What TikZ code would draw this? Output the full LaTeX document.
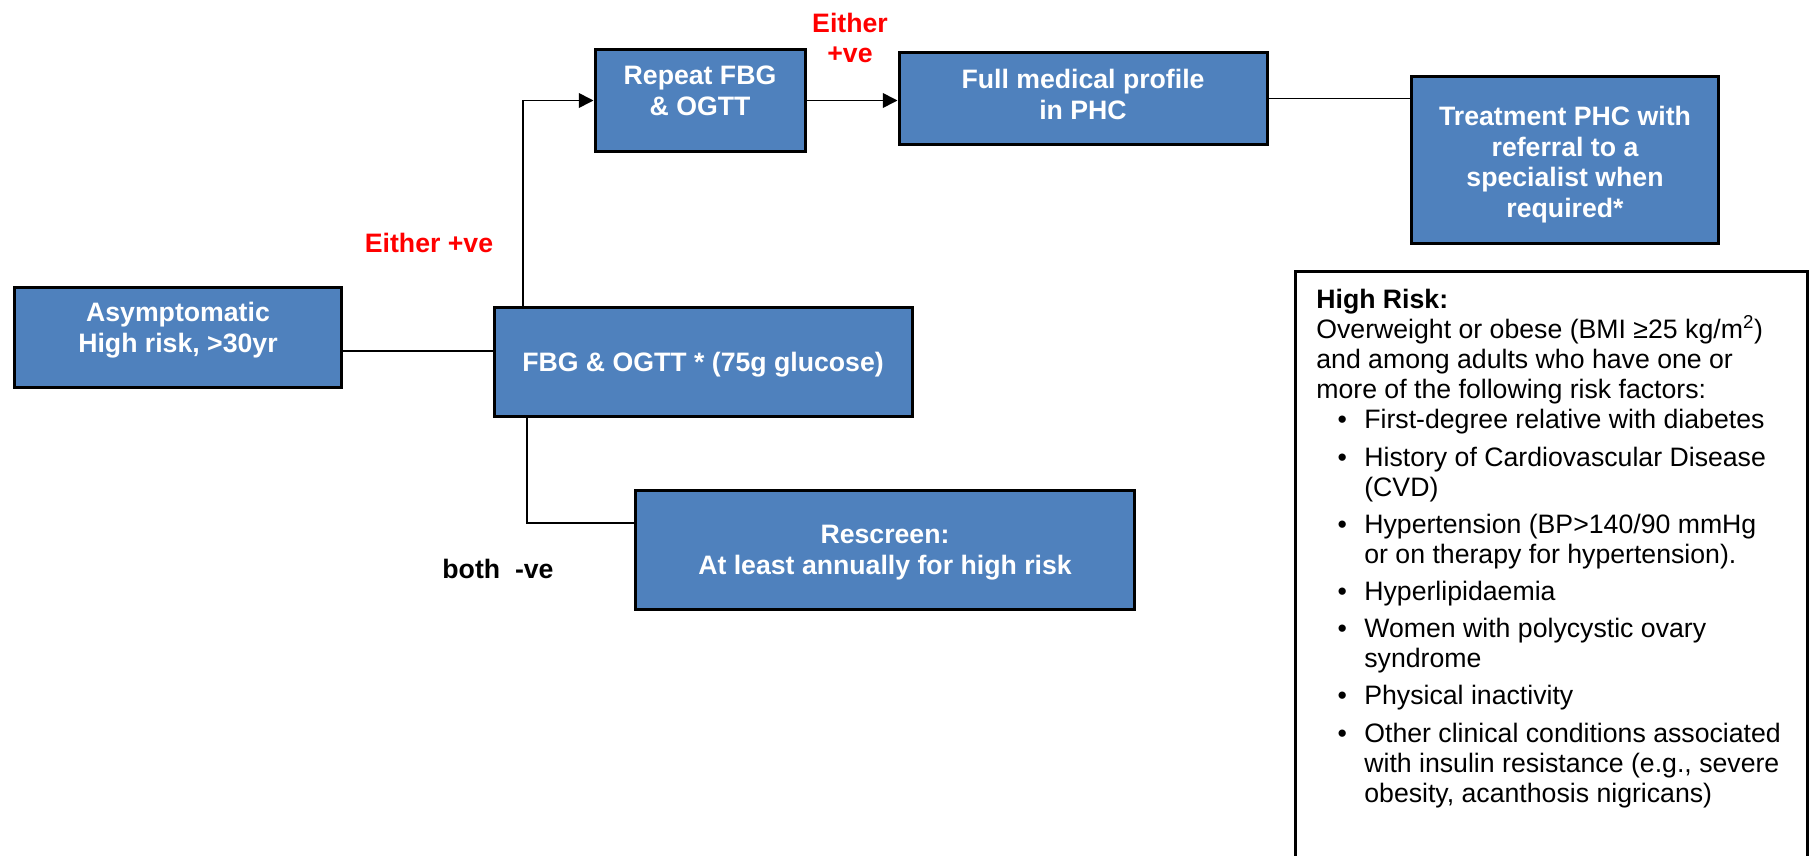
\documentclass[tikz,border=0pt]{standalone}
\usepackage{fontspec}
\setmainfont{Liberation Sans}
\usetikzlibrary{arrows.meta}
\definecolor{boxblue}{HTML}{4F81BD}
\definecolor{labelred}{HTML}{FF0000}
% box caption, raised (or lowered) inside its box without changing the box size
\newcommand\liftedtext[2]{\raisebox{#1}[\height][\depth]{\begin{tabular}{@{}c@{}}#2\end{tabular}}}

\begin{document}
\begin{tikzpicture}[x=0.75pt,y=-0.75pt,
  flowbox/.style={draw=black, line width=2.25pt, fill=boxblue, text=white,
    font=\fontsize{20pt}{23pt}\selectfont\bfseries, align=center, inner sep=0pt},
  riskbox/.style={draw=black, line width=2.25pt, fill=white,
    font=\fontsize{20pt}{22.5pt}\selectfont, inner xsep=16pt, inner ysep=14pt},
  link/.style={line width=1.2pt},
  arrowlink/.style={link, -{Triangle[length=11pt,width=11pt]}},
  redlabel/.style={text=labelred, font=\fontsize{20pt}{23pt}\selectfont\bfseries, align=center},
  blacklabel/.style={text=black, font=\fontsize{20pt}{23pt}\selectfont\bfseries, align=center}]

\useasboundingbox (0,0) rectangle (1809,856);

% flowchart boxes
\node[flowbox, minimum width=245.25pt, minimum height=75pt] (asym) at (178,337)
  {\liftedtext{4.8pt}{Asymptomatic\\High risk, >30yr}};
\node[flowbox, minimum width=313.5pt, minimum height=81.75pt] (fbg) at (703,362)
  {\liftedtext{-2.6pt}{FBG \& OGTT * (75g glucose)}};
\node[flowbox, minimum width=157.5pt, minimum height=76.5pt] (repeat) at (700,100.5)
  {\liftedtext{4.8pt}{Repeat FBG\\\& OGTT}};
\node[flowbox, minimum width=276pt, minimum height=69pt] (fullmed) at (1083,98.5)
  {\liftedtext{0.4pt}{Full medical profile\\in PHC}};
\node[flowbox, minimum width=230.25pt, minimum height=125.25pt] (treat) at (1565,160)
  {\liftedtext{-3.9pt}{Treatment PHC with\\referral to a\\specialist when\\required*}};
\node[flowbox, minimum width=374.25pt, minimum height=89.25pt] (rescreen) at (885,550)
  {\liftedtext{-2.2pt}{Rescreen:\\At least annually for high risk}};

% branch labels
\node[redlabel] (eitherA) at (429,243) {Either +ve};
\node[redlabel] (eitherB) at (850,38) {Either\\+ve};
\node[blacklabel] (bothneg) at (498,569) {both~ -ve};

% routing levels of the connectors
\coordinate (yA) at (0,351);
\coordinate (xUp) at (523,0);
\coordinate (xDown) at (527,0);
\coordinate (yDown) at (0,523);

\draw[link] (asym.east |- yA) -- (fbg.west |- yA);
\draw[arrowlink] (fbg.north -| xUp) |- (repeat.west);
\draw[arrowlink] (repeat.east) -- (fullmed.west |- repeat.east);
\draw[link] (fullmed.east) -- (treat.west |- fullmed.east);
\draw[link] (fbg.south -| xDown) |- (rescreen.west |- yDown);

% risk factor panel, running off the lower edge
\begin{scope}
\clip (0,0) rectangle (1809,856);
\node[riskbox, anchor=north west] (risk) at (1293.5,269.5)
{\begin{minipage}[t][500pt][t]{352pt}\raggedright\setlength\parskip{0pt}%
\textbf{High Risk:}\\
Overweight or obese (BMI ≥25 kg/m\textsuperscript{2})\\
and among adults who have one or\\
more of the following risk factors:
\begin{list}{\textbullet}{\setlength\leftmargin{36pt}\setlength\labelsep{13pt}%
  \setlength\labelwidth{20pt}\setlength\itemsep{5.4pt}\setlength\parsep{0pt}%
  \setlength\topsep{-2.6pt}\setlength\partopsep{0pt}\setlength\itemindent{0pt}}
\item First-degree relative with diabetes
\item History of Cardiovascular Disease\newline (CVD)
\item Hypertension (BP>140/90 mmHg\newline or on therapy for hypertension).
\item Hyperlipidaemia
\item Women with polycystic ovary\newline syndrome
\item Physical inactivity
\item Other clinical conditions associated\newline with insulin resistance (e.g., severe\newline obesity, acanthosis nigricans)
\end{list}
\end{minipage}};
\end{scope}

\end{tikzpicture}
\end{document}
